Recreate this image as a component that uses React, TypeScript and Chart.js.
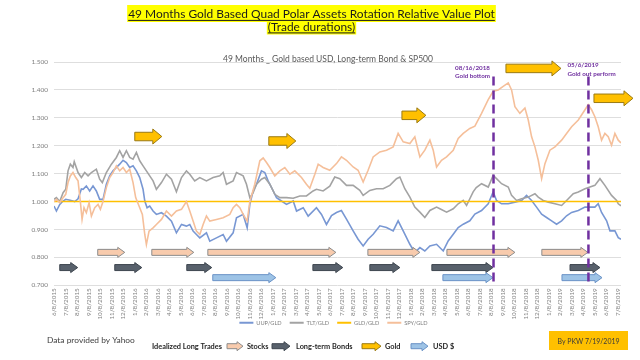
import React, { useEffect, useRef } from "react";
import { Chart, registerables } from "chart.js";
Chart.register(...registerables);

const FONT = "Lato, 'Open Sans', sans-serif";

const monthLabels = [
  "6/8/2015", "7/8/2015", "8/8/2015", "9/8/2015", "10/8/2015", "11/8/2015", "12/8/2015",
  "1/8/2016", "2/8/2016", "3/8/2016", "4/8/2016", "5/8/2016", "6/8/2016", "7/8/2016", "8/8/2016", "9/8/2016", "10/8/2016", "11/8/2016", "12/8/2016",
  "1/8/2017", "2/8/2017", "3/8/2017", "4/8/2017", "5/8/2017", "6/8/2017", "7/8/2017", "8/8/2017", "9/8/2017", "10/8/2017", "11/8/2017", "12/8/2017",
  "1/8/2018", "2/8/2018", "3/8/2018", "4/8/2018", "5/8/2018", "6/8/2018", "7/8/2018", "8/8/2018", "9/8/2018", "10/8/2018", "11/8/2018", "12/8/2018",
  "1/8/2019", "2/8/2019", "3/8/2019", "4/8/2019", "5/8/2019", "6/8/2019", "7/8/2019",
];

const seriesNames = ["UUP/GLD", "TLT/GLD", "GLD/GLD", "SPY/GLD"];

// [month index since 6/8/2015, ratio]
const uupGld: [number, number][] = [
  [0, 0.984], [0.21, 0.966], [0.5, 0.99], [0.79, 1.002], [1.02, 1.008], [1.4, 1.005], [1.8, 1.0], [2.09, 1.01], [2.38, 1.045], [2.53, 1.044], [2.81, 1.056], [3.1, 1.038], [3.39, 1.056], [3.68, 1.038], [3.97, 1.008], [4.26, 1.008], [4.55, 1.062], [4.84, 1.092], [5.13, 1.11], [5.42, 1.122], [5.71, 1.134], [6.0, 1.148], [6.29, 1.14], [6.58, 1.122], [6.87, 1.128], [7.16, 1.11], [7.45, 1.086], [7.74, 1.044], [7.89, 1.002], [8.09, 0.978], [8.32, 0.984], [8.61, 0.966], [8.9, 0.954], [9.34, 0.96], [9.77, 0.948], [10.21, 0.93], [10.64, 0.888], [11.08, 0.918], [11.51, 0.912], [11.8, 0.918], [12.09, 0.894], [12.38, 0.882], [12.67, 0.87], [13.25, 0.888], [13.54, 0.858], [14.12, 0.87], [14.7, 0.882], [14.99, 0.858], [15.57, 0.888], [15.86, 0.942], [16.44, 0.954], [16.79, 0.906], [17.02, 0.99], [17.31, 1.038], [17.6, 1.062], [18.03, 1.11], [18.32, 1.104], [18.61, 1.074], [19.05, 1.038], [19.34, 1.014], [19.77, 1.002], [20.21, 0.99], [20.79, 1.002], [21.08, 0.966], [21.66, 0.978], [22.09, 0.948], [22.81, 0.978], [23.25, 0.954], [23.68, 0.918], [24.12, 0.95], [24.55, 0.961], [24.98, 0.968], [25.42, 0.937], [26.0, 0.895], [26.43, 0.865], [26.87, 0.841], [27.3, 0.865], [27.74, 0.883], [28.32, 0.913], [28.9, 0.907], [29.48, 0.895], [29.91, 0.931], [30.35, 0.895], [30.93, 0.847], [31.36, 0.817], [31.8, 0.835], [32.23, 0.823], [32.67, 0.841], [33.25, 0.847], [33.83, 0.823], [34.26, 0.859], [34.7, 0.883], [35.13, 0.907], [35.57, 0.919], [36.14, 0.931], [36.58, 0.955], [37.16, 0.968], [37.74, 0.992], [38.17, 1.035], [38.46, 1.004], [38.9, 0.992], [39.48, 0.992], [40.06, 0.998], [40.64, 1.004], [41.07, 1.022], [41.51, 1.004], [41.94, 0.98], [42.38, 0.955], [42.81, 0.943], [43.25, 0.931], [43.68, 0.919], [44.12, 0.931], [44.55, 0.949], [44.99, 0.961], [45.57, 0.968], [46.15, 0.98], [46.58, 0.98], [47.01, 0.98], [47.3, 0.992], [47.59, 0.961], [48.03, 0.931], [48.32, 0.895], [48.75, 0.895], [49.04, 0.871], [49.28, 0.865],
];

const tltGld: [number, number][] = [
  [0, 1.008], [0.21, 1.014], [0.5, 1.0], [0.79, 1.032], [1.02, 1.044], [1.22, 1.11], [1.42, 1.134], [1.65, 1.122], [1.76, 1.143], [2.09, 1.104], [2.38, 1.086], [2.67, 1.104], [2.96, 1.092], [3.25, 1.104], [3.68, 1.116], [3.97, 1.08], [4.2, 1.068], [4.55, 1.104], [4.99, 1.134], [5.42, 1.158], [5.71, 1.182], [6.0, 1.158], [6.29, 1.182], [6.58, 1.158], [6.87, 1.152], [7.16, 1.176], [7.45, 1.146], [7.74, 1.128], [8.03, 1.11], [8.32, 1.092], [8.61, 1.074], [8.9, 1.044], [9.34, 1.068], [9.77, 1.098], [10.21, 1.08], [10.64, 1.035], [11.08, 1.086], [11.51, 1.11], [11.8, 1.098], [12.23, 1.074], [12.67, 1.086], [13.25, 1.074], [13.83, 1.086], [14.41, 1.092], [14.7, 1.104], [14.99, 1.062], [15.57, 1.074], [15.86, 1.104], [16.44, 1.092], [16.73, 1.062], [17.02, 1.014], [17.31, 1.032], [17.6, 1.062], [18.03, 1.08], [18.32, 1.086], [18.76, 1.062], [19.19, 1.026], [19.63, 1.014], [20.21, 1.014], [20.79, 1.012], [21.37, 1.02], [21.94, 1.02], [22.52, 1.038], [22.81, 1.044], [23.39, 1.038], [23.97, 1.055], [24.4, 1.088], [24.84, 1.082], [25.42, 1.058], [26.0, 1.058], [26.58, 1.04], [26.87, 1.022], [27.45, 1.04], [28.03, 1.046], [28.61, 1.046], [29.19, 1.058], [29.77, 1.082], [30.06, 1.088], [30.49, 1.046], [30.93, 1.016], [31.36, 0.98], [31.8, 0.962], [32.23, 0.943], [32.67, 0.968], [33.25, 0.98], [33.54, 0.974], [34.12, 0.962], [34.7, 0.974], [35.13, 0.992], [35.57, 1.004], [35.86, 0.986], [36.14, 1.01], [36.43, 1.035], [36.7, 1.05], [37.16, 1.064], [37.74, 1.052], [38.17, 1.094], [38.46, 1.082], [38.9, 1.064], [39.48, 1.052], [39.77, 1.022], [40.2, 1.004], [40.64, 1.01], [41.22, 1.016], [41.8, 1.028], [42.09, 1.016], [42.52, 1.004], [42.96, 0.998], [43.54, 0.992], [44.12, 0.986], [44.7, 1.01], [45.13, 1.028], [45.57, 1.034], [46.15, 1.046], [46.58, 1.052], [47.01, 1.058], [47.45, 1.082], [47.88, 1.058], [48.46, 1.022], [48.9, 1.004], [49.04, 0.992], [49.28, 0.985],
];

const gldGld: [number, number][] = [[0, 1.0], [49.28, 1.0]];

const spyGld: [number, number][] = [
  [0, 1.0], [0.21, 1.008], [0.5, 0.996], [0.79, 1.014], [1.02, 1.026], [1.22, 1.068], [1.42, 1.092], [1.65, 1.104], [1.89, 1.086], [2.09, 1.074], [2.29, 1.0], [2.44, 0.936], [2.61, 0.978], [2.81, 0.96], [3.05, 0.996], [3.25, 0.948], [3.54, 0.978], [3.83, 0.99], [4.03, 0.972], [4.26, 1.0], [4.55, 1.05], [4.84, 1.086], [5.13, 1.104], [5.42, 1.128], [5.71, 1.11], [6.0, 1.122], [6.29, 1.104], [6.58, 1.116], [6.87, 1.068], [7.1, 1.014], [7.39, 0.984], [7.68, 0.954], [7.89, 0.882], [8.03, 0.846], [8.26, 0.894], [8.61, 0.906], [8.9, 0.918], [9.34, 0.936], [9.77, 0.966], [10.21, 0.948], [10.64, 0.966], [11.08, 0.972], [11.51, 1.0], [11.8, 0.966], [12.09, 0.93], [12.38, 0.894], [12.67, 0.882], [12.96, 0.918], [13.25, 0.948], [13.54, 0.93], [14.12, 0.936], [14.7, 0.942], [15.28, 0.954], [15.57, 0.978], [15.86, 0.99], [16.15, 0.978], [16.44, 0.954], [16.79, 0.93], [17.02, 1.0], [17.45, 1.062], [17.89, 1.146], [18.18, 1.156], [18.47, 1.14], [18.76, 1.122], [19.19, 1.092], [19.63, 1.11], [20.06, 1.122], [20.5, 1.098], [20.93, 1.11], [21.51, 1.086], [21.94, 1.062], [22.23, 1.048], [22.67, 1.098], [22.96, 1.134], [23.39, 1.122], [23.97, 1.112], [24.55, 1.136], [24.98, 1.16], [25.42, 1.148], [26.0, 1.124], [26.43, 1.112], [26.87, 1.07], [27.3, 1.112], [27.74, 1.16], [28.32, 1.178], [28.9, 1.184], [29.48, 1.196], [29.91, 1.244], [30.35, 1.214], [30.93, 1.208], [31.36, 1.232], [31.8, 1.16], [32.23, 1.184], [32.67, 1.22], [32.96, 1.184], [33.25, 1.124], [33.68, 1.148], [34.12, 1.16], [34.7, 1.184], [35.13, 1.226], [35.57, 1.244], [36.14, 1.262], [36.58, 1.27], [37.16, 1.316], [37.74, 1.365], [38.17, 1.395], [38.61, 1.4], [39.04, 1.413], [39.48, 1.425], [39.77, 1.4], [40.06, 1.34], [40.49, 1.316], [40.93, 1.335], [41.22, 1.292], [41.51, 1.232], [41.8, 1.196], [42.09, 1.148], [42.38, 1.082], [42.67, 1.136], [43.1, 1.184], [43.54, 1.196], [44.12, 1.22], [44.55, 1.244], [44.99, 1.268], [45.57, 1.292], [46.15, 1.329], [46.43, 1.347], [46.72, 1.329], [47.01, 1.304], [47.3, 1.268], [47.59, 1.22], [47.88, 1.244], [48.17, 1.232], [48.46, 1.202], [48.75, 1.244], [49.04, 1.22], [49.28, 1.21],
];

// Idealized long trades: [start month, end month]
const stockTrades: [number, number][] = [[3.8, 6.15], [8.5, 12.15], [13.37, 24.5], [27.28, 31.8], [34.15, 40.06], [42.4, 46.4]];
const bondTrades: [number, number][] = [[0.5, 2.06], [5.28, 7.63], [11.54, 13.71], [22.5, 25.1], [27.45, 30.06], [32.84, 38.15], [44.85, 47.45]];
const usdTrades: [number, number][] = [[13.8, 19.28], [33.8, 38.15], [44.15, 47.63]];
// [start month, end month, level]
const goldTrades: [number, number, number][] = [[7.02, 9.37, 1.233], [18.67, 21.02, 1.217], [30.24, 32.32, 1.309], [39.28, 44.06, 1.477], [46.93, 50.32, 1.37]];
const stockLevel = 0.818;
const bondLevel = 0.7635;
const usdLevel = 0.7274;

const markerMonths = [38.2, 46.45];
const markerTexts = [["08/16/2018", "Gold bottom"], ["05/6/2019", "Gold out perform"]];

const titleLines = ["49 Months Gold Based Quad Polar Assets Rotation Relative Value Plot", "(Trade durations)"];
const subtitleText = "49 Months _ Gold based USD, Long-term Bond & SP500";
const sourceText = "Data provided by Yahoo";
const tradeLegendTitle = "Idealized Long Trades";
const tradeLegendItems = ["Stocks", "Long-term Bonds", "Gold", "USD $"];
const authorText = "By PKW 7/19/2019";

const STYLES = {
  stock: { body: 6, head: 10, headL: 7, fill: "#f8cbad", stroke: "#8c8c8c" },
  bond: { body: 6, head: 10, headL: 7, fill: "#58616c", stroke: "#3e464f" },
  usd: { body: 6, head: 10, headL: 7, fill: "#9dc3e6", stroke: "#6a92c6" },
  gold: { body: 8.5, head: 15, headL: 9, fill: "#ffc000", stroke: "#9a7a14" },
};

function drawArrow(ctx: CanvasRenderingContext2D, x1: number, x2: number, yc: number, st: any) {
  const hl = Math.min(st.headL, (x2 - x1) * 0.6);
  ctx.beginPath();
  ctx.moveTo(x1, yc - st.body / 2);
  ctx.lineTo(x2 - hl, yc - st.body / 2);
  ctx.lineTo(x2 - hl, yc - st.head / 2);
  ctx.lineTo(x2, yc);
  ctx.lineTo(x2 - hl, yc + st.head / 2);
  ctx.lineTo(x2 - hl, yc + st.body / 2);
  ctx.lineTo(x1, yc + st.body / 2);
  ctx.closePath();
  ctx.fillStyle = st.fill;
  ctx.fill();
  ctx.lineWidth = 1;
  ctx.strokeStyle = st.stroke;
  ctx.stroke();
}

function fitSize(ctx: CanvasRenderingContext2D, text: string, weight: string, target: number) {
  ctx.font = `${weight} 20px ${FONT}`;
  const w = ctx.measureText(text).width;
  return (20 * target) / w;
}

const decorPlugin = {
  id: "decor",
  afterLayout(chart: any) {
    const lg = chart.legend;
    if (lg) {
      lg.left = 46;
      lg.top = 312;
      lg.bottom = lg.top + lg.height;
    }
  },
  afterDatasetsDraw(chart: any) {
    const ctx: CanvasRenderingContext2D = chart.ctx;
    const xs = chart.scales.x;
    const ys = chart.scales.y;
    ctx.save();
    stockTrades.forEach(([a, b]) => drawArrow(ctx, xs.getPixelForValue(a), xs.getPixelForValue(b), ys.getPixelForValue(stockLevel), STYLES.stock));
    bondTrades.forEach(([a, b]) => drawArrow(ctx, xs.getPixelForValue(a), xs.getPixelForValue(b), ys.getPixelForValue(bondLevel), STYLES.bond));
    usdTrades.forEach(([a, b]) => drawArrow(ctx, xs.getPixelForValue(a), xs.getPixelForValue(b), ys.getPixelForValue(usdLevel), STYLES.usd));
    goldTrades.forEach(([a, b, l]) => drawArrow(ctx, xs.getPixelForValue(a), xs.getPixelForValue(b), ys.getPixelForValue(l), STYLES.gold));

    // marker lines
    const offsets = [-38.5, -21];
    const ms = fitSize(ctx, markerTexts[0][0], "bold", 35);
    markerMonths.forEach((m, i) => {
      const x = xs.getPixelForValue(m);
      ctx.beginPath();
      ctx.setLineDash([9, 5]);
      ctx.lineWidth = 2.5;
      ctx.strokeStyle = "#7030a0";
      ctx.moveTo(x, ys.getPixelForValue(1.448));
      ctx.lineTo(x, ys.getPixelForValue(0.7));
      ctx.stroke();
      ctx.setLineDash([]);
      ctx.fillStyle = "#7030a0";
      ctx.font = `bold ${ms}px ${FONT}`;
      ctx.textAlign = "left";
      ctx.textBaseline = "alphabetic";
      const base = i === 0 ? 69.5 : 67;
      ctx.fillText(markerTexts[i][0], x + offsets[i], base);
      ctx.fillText(markerTexts[i][1], x + offsets[i], base + 8.7);
    });
    ctx.restore();
  },
  afterDraw(chart: any) {
    const ctx: CanvasRenderingContext2D = chart.ctx;
    ctx.save();
    ctx.textBaseline = "alphabetic";
    // title
    const ts = fitSize(ctx, titleLines[0], "normal", 367);
    ctx.font = `normal ${ts}px ${FONT}`;
    const cx = 311.5;
    const bases = [18.3, 30.8];
    const hl = [[5, 17], [22, 12.5]];
    titleLines.forEach((t, i) => {
      const w = ctx.measureText(t).width;
      ctx.fillStyle = "#ffff00";
      ctx.fillRect(cx - w / 2 - 1, hl[i][0], w + 2, hl[i][1]);
    });
    titleLines.forEach((t, i) => {
      const w = ctx.measureText(t).width;
      ctx.fillStyle = "#1a1a1a";
      ctx.textAlign = "center";
      ctx.fillText(t, cx, bases[i]);
      ctx.fillRect(cx - w / 2, bases[i] + 1.6, w, 1);
    });
    // subtitle
    const ss = fitSize(ctx, subtitleText, "normal", 210);
    ctx.font = `normal ${ss}px ${FONT}`;
    ctx.fillStyle = "#595959";
    ctx.textAlign = "center";
    ctx.fillText(subtitleText, 328, 61.5);

    // source
    const ds = fitSize(ctx, sourceText, "normal", 88);
    ctx.font = `normal ${ds}px ${FONT}`;
    ctx.fillStyle = "#404040";
    ctx.textAlign = "left";
    ctx.fillText(sourceText, 47, 343);

    // trade legend
    const ls = fitSize(ctx, tradeLegendTitle, "bold", 70);
    ctx.font = `bold ${ls}px ${FONT}`;
    ctx.fillStyle = "#262626";
    const ly = 349;
    ctx.fillText(tradeLegendTitle, 152, ly);
    const icons = [
      { x1: 227, x2: 243, st: STYLES.stock, tx: 247 },
      { x1: 272, x2: 290, st: STYLES.bond, tx: 296 },
      { x1: 362, x2: 381, st: STYLES.gold, tx: 385 },
      { x1: 411, x2: 428, st: STYLES.usd, tx: 433 },
    ];
    icons.forEach((ic, i) => {
      const st = { ...ic.st, body: 5, head: 9, headL: 6 };
      drawArrow(ctx, ic.x1, ic.x2, ly - 2.8, st);
      ctx.fillStyle = "#262626";
      ctx.fillText(tradeLegendItems[i], ic.tx, ly);
    });

    // author box
    ctx.fillStyle = "#ffc000";
    ctx.fillRect(549, 331, 79, 19);
    const as = fitSize(ctx, authorText, "normal", 62);
    ctx.font = `normal ${as}px ${FONT}`;
    ctx.fillStyle = "#3a3a3a";
    ctx.textAlign = "center";
    ctx.fillText(authorText, 588.5, 343.5);
    ctx.restore();
  },
};

const colors = ["#7897d3", "#a3a3a3", "#ffc000", "#f5bf9a"];
const seriesData = [uupGld, tltGld, gldGld, spyGld];

export default function App() {
  const ref = useRef<HTMLCanvasElement>(null);
  useEffect(() => {
    document.body.style.margin = "0";
    const chart = new Chart(ref.current!, {
      type: "line",
      data: {
        datasets: seriesData.map((d, i) => ({
          label: seriesNames[i],
          data: d.map(([x, y]) => ({ x, y })),
          borderColor: colors[i],
          backgroundColor: colors[i],
          borderWidth: 1.6,
          pointRadius: 0,
          tension: 0,
          order: 3 - i,
        })),
      },
      options: {
        responsive: false,
        animation: false,
        layout: { padding: { top: 62, left: 0, right: 19, bottom: 15 } },
        scales: {
          x: {
            type: "linear",
            min: 0,
            max: 49.28,
            grid: { display: false, drawTicks: false },
            border: { display: false },
            afterFit: (s: any) => { s.height = 36; },
            ticks: {
              stepSize: 1,
              autoSkip: false,
              includeBounds: false,
              minRotation: 90,
              maxRotation: 90,
              padding: 3,
              color: "#7f7f7f",
              font: { family: FONT, size: 6.3 },
              callback: (v: any) => (Number.isInteger(v) && monthLabels[v] ? monthLabels[v] : ""),
            },
          },
          y: {
            min: 0.7,
            max: 1.5,
            grid: { color: "#dedede", lineWidth: 1, drawTicks: false },
            border: { display: false },
            afterFit: (s: any) => { s.width = 54; },
            ticks: {
              stepSize: 0.1,
              padding: 6,
              color: "#7f7f7f",
              font: { family: FONT, size: 6.5 },
              callback: (v: any) => Number(v).toFixed(3),
            },
          },
        },
        plugins: {
          title: { display: false },
          tooltip: { enabled: false },
          legend: {
            position: "bottom",
            labels: {
              boxWidth: 14,
              boxHeight: 2,
              padding: 8,
              color: "#7f7f7f",
              font: { family: FONT, size: 5.7 },
              sort: (a: any, b: any) => a.datasetIndex - b.datasetIndex,
              generateLabels: (c: any) =>
                (Chart.defaults.plugins.legend.labels.generateLabels as any)(c).map((l: any) => ({ ...l, lineWidth: 0, fillStyle: l.strokeStyle })),
            },
          },
        },
      } as any,
      plugins: [decorPlugin],
    });
    return () => chart.destroy();
  }, []);
  return (
    <div style={{ width: 640, height: 360, background: "#fff" }}>
      <canvas ref={ref} width={640} height={360} style={{ display: "block" }} />
    </div>
  );
}
